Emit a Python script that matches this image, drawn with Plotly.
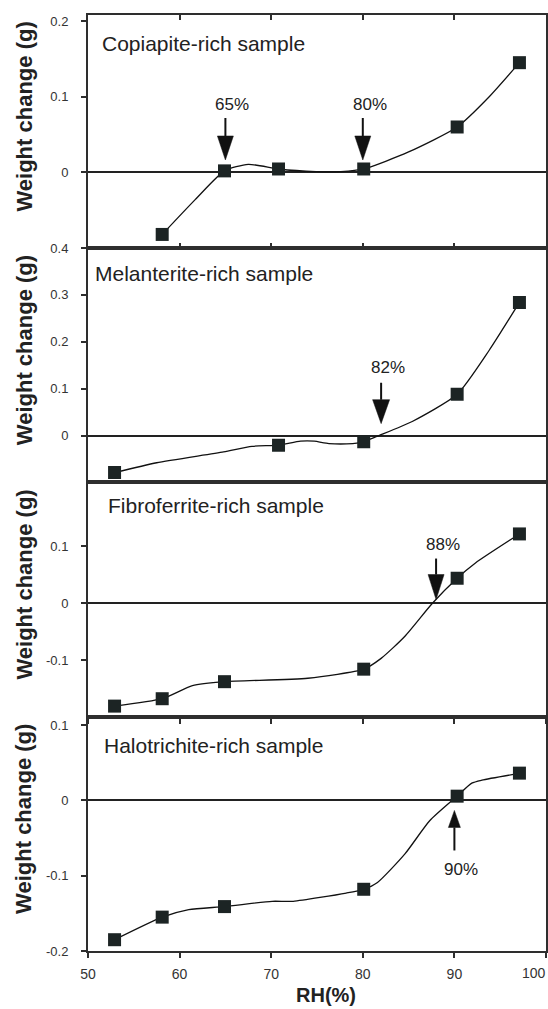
import plotly.graph_objects as go

# ---- data -------------------------------------------------------------
RH_TICKS = [50, 60, 70, 80, 90, 100]

sample_names = [
    "Copiapite-rich sample",
    "Melanterite-rich sample",
    "Fibroferrite-rich sample",
    "Halotrichite-rich sample",
]

# measured weight changes (g) at each relative humidity step (%)
copiapite_rh = [58.1, 64.9, 70.8, 80.1, 90.3, 97.1]
copiapite_dw = [-0.082, 0.002, 0.0045, 0.0045, 0.060, 0.145]
copiapite_curve_rh = [58.1, 61.7, 64.9, 67.5, 70.8, 74.9, 77.6, 80.1, 85.0, 90.3, 93.8, 97.1]
copiapite_curve_dw = [-0.082, -0.036, 0.002, 0.0107, 0.0045, 0.001, 0.001, 0.0045, 0.027, 0.060, 0.100, 0.145]

melanterite_rh = [52.9, 70.8, 80.1, 90.3, 97.1]
melanterite_dw = [-0.079, -0.0205, -0.0134, 0.088, 0.284]
melanterite_curve_rh = [52.9, 57.5, 64.8, 67.9, 70.8, 73.2, 74.7, 76.3, 78.9, 80.1, 81.6, 85.4, 90.3, 93.8, 97.1]
melanterite_curve_dw = [-0.079, -0.058, -0.035, -0.023, -0.0205, -0.012, -0.012, -0.017, -0.017, -0.0134, -0.0014, 0.030, 0.088, 0.182, 0.284]

fibroferrite_rh = [52.9, 58.1, 64.9, 80.1, 90.3, 97.1]
fibroferrite_dw = [-0.181, -0.168, -0.138, -0.116, 0.044, 0.122]
fibroferrite_curve_rh = [52.9, 58.1, 61.4, 64.9, 74.0, 80.1, 82.0, 84.6, 87.6, 90.3, 92.3, 97.1]
fibroferrite_curve_dw = [-0.181, -0.168, -0.145, -0.138, -0.132, -0.116, -0.097, -0.058, 0.0, 0.044, 0.071, 0.122]

halotrichite_rh = [52.9, 58.1, 64.9, 80.1, 90.3, 97.1]
halotrichite_dw = [-0.185, -0.155, -0.141, -0.118, 0.0057, 0.0363]
halotrichite_curve_rh = [52.9, 58.1, 61.0, 64.9, 70.1, 72.4, 78.2, 80.1, 81.6, 84.6, 87.3, 90.3, 91.9, 93.0, 97.1]
halotrichite_curve_dw = [-0.185, -0.155, -0.145, -0.141, -0.134, -0.134, -0.123, -0.118, -0.109, -0.071, -0.027, 0.0057, 0.023, 0.027, 0.036]

# deliquescence humidities marked with arrows (%)
copiapite_marks = [65, 80]
melanterite_marks = [82]
fibroferrite_marks = [88]
halotrichite_marks = [90]

# y-axis ticks per panel
copiapite_yticks = [0, 0.1, 0.2]
melanterite_yticks = [0, 0.1, 0.2, 0.3, 0.4]
fibroferrite_yticks = [-0.1, 0, 0.1]
halotrichite_yticks = [-0.2, -0.1, 0, 0.1]

# ---- panel setup ------------------------------------------------------
INK = "#1c2424"
AXIS = "#2e2e2e"
FONT = "Liberation Sans, Arial, sans-serif"

panels = [
    dict(name=sample_names[0], rh=copiapite_rh, dw=copiapite_dw,
         crh=copiapite_curve_rh, cdw=copiapite_curve_dw, marks=copiapite_marks,
         yticks=copiapite_yticks, yrange=[-0.1, 0.208], domain=[0.751, 1.0],
         title_pos=(0.026, 0.876), arrow=dict(tip=0.0164, head=24, hw=8, shaft=18, up=False, dy=55),
         xticks="inside", xmirror="ticks"),
    dict(name=sample_names[1], rh=melanterite_rh, dw=melanterite_dw,
         crh=melanterite_curve_rh, cdw=melanterite_curve_dw, marks=melanterite_marks,
         yticks=melanterite_yticks, yrange=[-0.1, 0.4], domain=[0.5006, 0.751],
         title_pos=(0.012, 0.893), arrow=dict(tip=0.0254, head=24, hw=8.5, shaft=17, up=False, dy=56),
         xticks="", xmirror=True),
    dict(name=sample_names[2], rh=fibroferrite_rh, dw=fibroferrite_dw,
         crh=fibroferrite_curve_rh, cdw=fibroferrite_curve_dw, marks=fibroferrite_marks,
         yticks=fibroferrite_yticks, yrange=[-0.2, 0.2126], domain=[0.2501, 0.5006],
         title_pos=(0.040, 0.903), arrow=dict(tip=0.0065, head=25, hw=8, shaft=16, up=False, dy=55),
         xticks="outside", xmirror=True),
    dict(name=sample_names[3], rh=halotrichite_rh, dw=halotrichite_dw,
         crh=halotrichite_curve_rh, cdw=halotrichite_curve_dw, marks=halotrichite_marks,
         yticks=halotrichite_yticks, yrange=[-0.2, 0.111], domain=[0.0, 0.2501],
         title_pos=(0.031, 0.879), arrow=dict(tip=-0.0133, head=17, hw=6, shaft=23, up=True, dy=-59),
         xticks="outside", xmirror=True),
]

fig = go.Figure()
layout = dict(
    width=548, height=1009,
    margin=dict(l=88, r=2, t=15, b=58, autoexpand=False),
    paper_bgcolor="white", plot_bgcolor="white",
    font=dict(family=FONT, color="#222222"),
    showlegend=False,
)
shapes = []
annotations = []

# the last RH label sits at the page edge, so it is drawn right-aligned
x_ticktext = [str(v) for v in RH_TICKS[:-1]] + [""]

for i, p in enumerate(panels):
    n = "" if i == 0 else str(i + 1)
    xa, ya = "x" + n, "y" + n
    last = i == len(panels) - 1

    fig.add_trace(go.Scatter(
        x=p["crh"], y=p["cdw"], mode="lines", xaxis=xa, yaxis=ya,
        line=dict(color="#111111", width=1.3, shape="spline", smoothing=0.6),
        hoverinfo="skip"))
    fig.add_trace(go.Scatter(
        x=p["rh"], y=p["dw"], mode="markers", xaxis=xa, yaxis=ya,
        marker=dict(symbol="square", size=13, color=INK, line=dict(width=0))))

    layout["xaxis" + n] = dict(
        domain=[0, 1], range=[50, 100], anchor=ya,
        tickvals=RH_TICKS, ticktext=x_ticktext,
        showline=True, linecolor=AXIS, linewidth=2, mirror=p["xmirror"],
        showgrid=False, zeroline=False, ticks=p["xticks"], ticklen=5,
        tickwidth=1.5, tickcolor=AXIS, showticklabels=last, automargin=False,
        tickfont=dict(size=14, color="#333333"), ticklabelstandoff=4)
    layout["yaxis" + n] = dict(
        domain=p["domain"], range=p["yrange"], anchor=xa,
        tickvals=p["yticks"], ticktext=[f"{v:g}" for v in p["yticks"]],
        ticks="outside", ticklen=5, tickwidth=1.5, tickcolor=AXIS,
        showline=True, linecolor=AXIS, linewidth=2, mirror=True, automargin=False,
        showgrid=False, zeroline=True, zerolinecolor="#222222", zerolinewidth=1.6,
        tickfont=dict(size=13, color="#333333"), ticklabelstandoff=10)

    # panel title
    annotations.append(dict(
        text=p["name"], xref=xa + " domain", yref=ya + " domain",
        x=p["title_pos"][0], y=p["title_pos"][1], xanchor="left", yanchor="middle",
        showarrow=False, font=dict(size=21, color="#222222")))
    # y-axis title
    annotations.append(dict(
        text="<b>Weight change (g)</b>", xref="paper", yref=ya + " domain",
        x=-0.1394, y=0.565, xanchor="center", yanchor="middle", textangle=-90,
        showarrow=False, font=dict(size=22, color="#222222")))

    # arrows marking the transition humidity
    a = p["arrow"]
    s = 1 if not a["up"] else -1
    for rh in p["marks"]:
        common = dict(xref=xa, yref=ya, xsizemode="pixel", ysizemode="pixel",
                      xanchor=rh, yanchor=a["tip"])
        shapes.append(dict(type="path", **common,
                           path=f"M0,{s*a['head']} L0,{s*(a['head']+a['shaft'])}",
                           line=dict(color="#111111", width=2)))
        shapes.append(dict(type="path", **common,
                           path=f"M0,0 L{-a['hw']},{s*a['head']} L{a['hw']},{s*a['head']} Z",
                           fillcolor="#111111", line=dict(color="#111111", width=0.5)))
        annotations.append(dict(
            text=f"{rh}%", xref=xa, yref=ya, x=rh, y=a["tip"],
            xshift=7, yshift=a["dy"], showarrow=False,
            font=dict(size=17, color="#222222")))

# right-most RH tick label, kept inside the page
annotations.append(dict(
    text=str(RH_TICKS[-1]), xref="x4", yref="y4 domain", x=RH_TICKS[-1], y=-0.095,
    xanchor="right", yanchor="middle", xshift=2, showarrow=False,
    font=dict(size=14, color="#333333")))

# x-axis title
annotations.append(dict(
    text="<b>RH(%)</b>", xref="paper", yref="paper", x=0.519, y=-0.061,
    xanchor="center", yanchor="bottom", showarrow=False,
    font=dict(size=20, color="#222222")))

layout["shapes"] = shapes
layout["annotations"] = annotations
fig.update_layout(**layout)

fig.write_html("out.html")
